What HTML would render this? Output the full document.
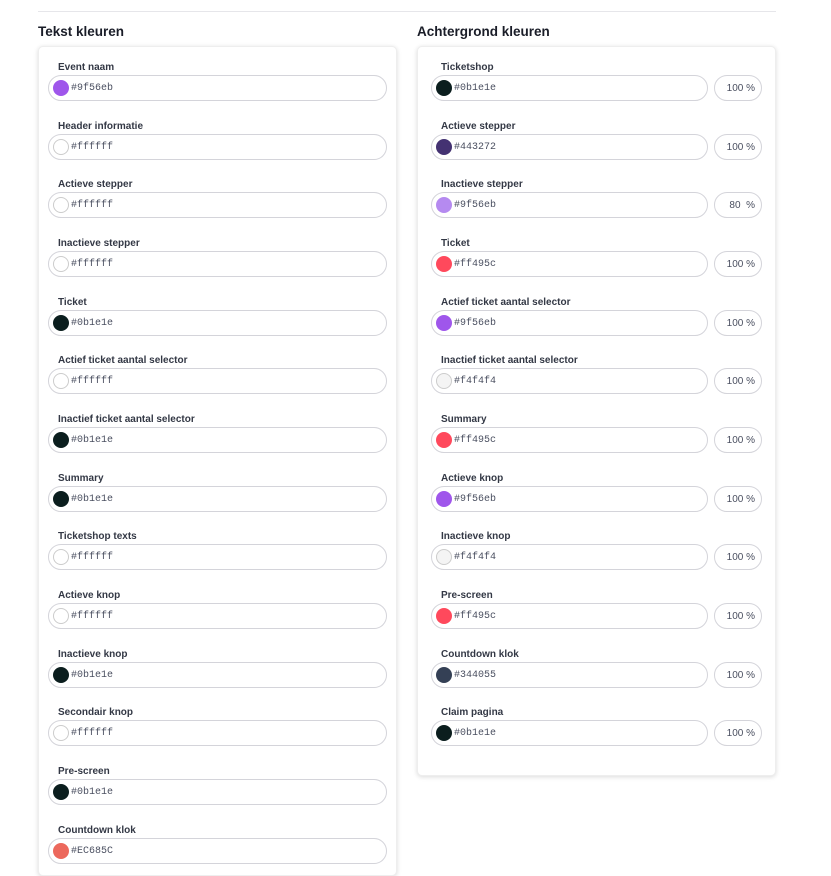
<!DOCTYPE html>
<html><head><meta charset="utf-8"><style>
*{box-sizing:border-box;margin:0;padding:0}
body{width:831px;height:858px;background:#fff;position:relative;overflow:hidden;font-family:"Liberation Sans",sans-serif;color:#1f2330}
.line{position:absolute;left:38px;top:11px;width:738px;height:1px;background:#e6e6ea}
h2{position:absolute;top:24px;font-size:13.5px;font-weight:bold;color:#1a1d28}
.card{position:absolute;background:#fff;border-radius:5px;box-shadow:0 1px 5px rgba(0,0,0,.15);border:1px solid #eee}
.lb{position:absolute;font-size:10px;font-weight:bold;color:#333845;margin-top:1px}
.in{position:absolute;height:26px;border:1px solid #d4d4da;border-radius:13px;background:#fff}
.sw{position:absolute;left:4px;top:4px;width:16px;height:16px;border-radius:50%}
.tx{position:absolute;left:22px;top:7px;font-family:"Liberation Mono",monospace;font-size:10px;color:#4a4f60}
.pc{position:absolute;height:26px;width:48px;border:1px solid #d4d4da;border-radius:13px;font-size:10px;color:#4a4f60;text-align:right;padding:7px 6px 0 0}
</style></head><body>
<div class="line"></div>
<h2 style="left:38px">Tekst kleuren</h2>
<h2 style="left:417px">Achtergrond kleuren</h2>
<div class="card" style="left:38px;top:46px;width:359px;height:830px"></div>
<div class="card" style="left:417px;top:46px;width:359px;height:730px"></div>

<div class="lb" style="left:58px;top:61px">Event naam</div><div class="in" style="left:48px;top:75px;width:339px"><div class="sw" style="background:#9f56eb"></div><div class="tx">#9f56eb</div></div>
<div class="lb" style="left:58px;top:120px">Header informatie</div><div class="in" style="left:48px;top:134px;width:339px"><div class="sw" style="border:1px solid #ccc"></div><div class="tx">#ffffff</div></div>
<div class="lb" style="left:58px;top:178px">Actieve stepper</div><div class="in" style="left:48px;top:192px;width:339px"><div class="sw" style="border:1px solid #ccc"></div><div class="tx">#ffffff</div></div>
<div class="lb" style="left:58px;top:237px">Inactieve stepper</div><div class="in" style="left:48px;top:251px;width:339px"><div class="sw" style="border:1px solid #ccc"></div><div class="tx">#ffffff</div></div>
<div class="lb" style="left:58px;top:296px">Ticket</div><div class="in" style="left:48px;top:310px;width:339px"><div class="sw" style="background:#0b1e1e"></div><div class="tx">#0b1e1e</div></div>
<div class="lb" style="left:58px;top:354px">Actief ticket aantal selector</div><div class="in" style="left:48px;top:368px;width:339px"><div class="sw" style="border:1px solid #ccc"></div><div class="tx">#ffffff</div></div>
<div class="lb" style="left:58px;top:413px">Inactief ticket aantal selector</div><div class="in" style="left:48px;top:427px;width:339px"><div class="sw" style="background:#0b1e1e"></div><div class="tx">#0b1e1e</div></div>
<div class="lb" style="left:58px;top:472px">Summary</div><div class="in" style="left:48px;top:486px;width:339px"><div class="sw" style="background:#0b1e1e"></div><div class="tx">#0b1e1e</div></div>
<div class="lb" style="left:58px;top:530px">Ticketshop texts</div><div class="in" style="left:48px;top:544px;width:339px"><div class="sw" style="border:1px solid #ccc"></div><div class="tx">#ffffff</div></div>
<div class="lb" style="left:58px;top:589px">Actieve knop</div><div class="in" style="left:48px;top:603px;width:339px"><div class="sw" style="border:1px solid #ccc"></div><div class="tx">#ffffff</div></div>
<div class="lb" style="left:58px;top:648px">Inactieve knop</div><div class="in" style="left:48px;top:662px;width:339px"><div class="sw" style="background:#0b1e1e"></div><div class="tx">#0b1e1e</div></div>
<div class="lb" style="left:58px;top:706px">Secondair knop</div><div class="in" style="left:48px;top:720px;width:339px"><div class="sw" style="border:1px solid #ccc"></div><div class="tx">#ffffff</div></div>
<div class="lb" style="left:58px;top:765px">Pre-screen</div><div class="in" style="left:48px;top:779px;width:339px"><div class="sw" style="background:#0b1e1e"></div><div class="tx">#0b1e1e</div></div>
<div class="lb" style="left:58px;top:824px">Countdown klok</div><div class="in" style="left:48px;top:838px;width:339px"><div class="sw" style="background:#EC685C"></div><div class="tx">#EC685C</div></div>

<div class="lb" style="left:441px;top:61px">Ticketshop</div><div class="in" style="left:431px;top:75px;width:277px"><div class="sw" style="background:#0b1e1e"></div><div class="tx">#0b1e1e</div></div><div class="pc" style="left:714px;top:75px">100 %</div>
<div class="lb" style="left:441px;top:120px">Actieve stepper</div><div class="in" style="left:431px;top:134px;width:277px"><div class="sw" style="background:#443272"></div><div class="tx">#443272</div></div><div class="pc" style="left:714px;top:134px">100 %</div>
<div class="lb" style="left:441px;top:178px">Inactieve stepper</div><div class="in" style="left:431px;top:192px;width:277px"><div class="sw" style="background:#b58af0"></div><div class="tx">#9f56eb</div></div><div class="pc" style="left:714px;top:192px">80 &nbsp;%</div>
<div class="lb" style="left:441px;top:237px">Ticket</div><div class="in" style="left:431px;top:251px;width:277px"><div class="sw" style="background:#ff495c"></div><div class="tx">#ff495c</div></div><div class="pc" style="left:714px;top:251px">100 %</div>
<div class="lb" style="left:441px;top:296px">Actief ticket aantal selector</div><div class="in" style="left:431px;top:310px;width:277px"><div class="sw" style="background:#9f56eb"></div><div class="tx">#9f56eb</div></div><div class="pc" style="left:714px;top:310px">100 %</div>
<div class="lb" style="left:441px;top:354px">Inactief ticket aantal selector</div><div class="in" style="left:431px;top:368px;width:277px"><div class="sw" style="background:#f4f4f4;border:1px solid #ccc"></div><div class="tx">#f4f4f4</div></div><div class="pc" style="left:714px;top:368px">100 %</div>
<div class="lb" style="left:441px;top:413px">Summary</div><div class="in" style="left:431px;top:427px;width:277px"><div class="sw" style="background:#ff495c"></div><div class="tx">#ff495c</div></div><div class="pc" style="left:714px;top:427px">100 %</div>
<div class="lb" style="left:441px;top:472px">Actieve knop</div><div class="in" style="left:431px;top:486px;width:277px"><div class="sw" style="background:#9f56eb"></div><div class="tx">#9f56eb</div></div><div class="pc" style="left:714px;top:486px">100 %</div>
<div class="lb" style="left:441px;top:530px">Inactieve knop</div><div class="in" style="left:431px;top:544px;width:277px"><div class="sw" style="background:#f4f4f4;border:1px solid #ccc"></div><div class="tx">#f4f4f4</div></div><div class="pc" style="left:714px;top:544px">100 %</div>
<div class="lb" style="left:441px;top:589px">Pre-screen</div><div class="in" style="left:431px;top:603px;width:277px"><div class="sw" style="background:#ff495c"></div><div class="tx">#ff495c</div></div><div class="pc" style="left:714px;top:603px">100 %</div>
<div class="lb" style="left:441px;top:648px">Countdown klok</div><div class="in" style="left:431px;top:662px;width:277px"><div class="sw" style="background:#344055"></div><div class="tx">#344055</div></div><div class="pc" style="left:714px;top:662px">100 %</div>
<div class="lb" style="left:441px;top:706px">Claim pagina</div><div class="in" style="left:431px;top:720px;width:277px"><div class="sw" style="background:#0b1e1e"></div><div class="tx">#0b1e1e</div></div><div class="pc" style="left:714px;top:720px">100 %</div>
</body></html>
